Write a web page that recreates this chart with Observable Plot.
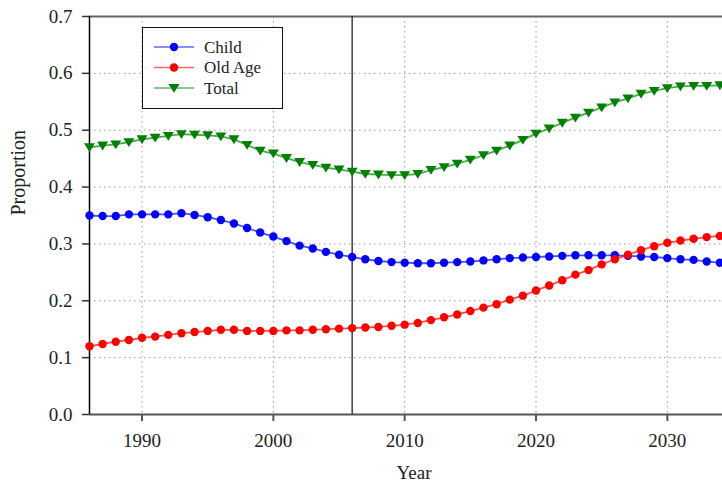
<!DOCTYPE html>
<html><head><meta charset="utf-8">
<script src="https://cdn.jsdelivr.net/npm/d3@7"></script>
<script src="https://cdn.jsdelivr.net/npm/@observablehq/plot@0.6"></script>
<style>
body{margin:0;background:#fff;}
#wrap{position:relative;width:722px;height:483px;overflow:hidden;background:#fff;}
#wrap svg.legend{position:absolute;left:142px;top:27px;}
</style></head><body><div id="wrap"></div>
<script>
const years = [1986,1987,1988,1989,1990,1991,1992,1993,1994,1995,1996,1997,1998,1999,2000,2001,2002,2003,2004,2005,2006,2007,2008,2009,2010,2011,2012,2013,2014,2015,2016,2017,2018,2019,2020,2021,2022,2023,2024,2025,2026,2027,2028,2029,2030,2031,2032,2033,2034];
const child = [0.350,0.349,0.349,0.352,0.352,0.352,0.352,0.354,0.351,0.347,0.342,0.336,0.328,0.320,0.313,0.305,0.297,0.292,0.286,0.281,0.277,0.273,0.270,0.268,0.267,0.266,0.266,0.267,0.268,0.269,0.271,0.273,0.275,0.276,0.277,0.278,0.279,0.280,0.280,0.280,0.280,0.279,0.278,0.277,0.275,0.273,0.272,0.269,0.267];
const oldAge = [0.120,0.124,0.128,0.131,0.135,0.137,0.140,0.143,0.145,0.147,0.149,0.149,0.147,0.147,0.147,0.148,0.148,0.149,0.150,0.151,0.152,0.153,0.154,0.156,0.158,0.161,0.166,0.171,0.176,0.182,0.188,0.194,0.202,0.209,0.218,0.227,0.236,0.246,0.254,0.264,0.273,0.281,0.289,0.296,0.302,0.306,0.309,0.312,0.314];
const total = [0.470,0.473,0.475,0.479,0.484,0.487,0.490,0.493,0.492,0.491,0.489,0.484,0.474,0.464,0.459,0.451,0.444,0.439,0.434,0.431,0.427,0.423,0.422,0.421,0.421,0.423,0.430,0.435,0.441,0.448,0.456,0.464,0.473,0.483,0.494,0.503,0.513,0.522,0.531,0.540,0.549,0.556,0.564,0.569,0.574,0.577,0.578,0.578,0.579];
const xTicks = [1990,2000,2010,2020,2030];
const yTicks = [0,0.1,0.2,0.3,0.4,0.5,0.6,0.7];
const seriesNames = ["Child","Old Age","Total"];
const seriesColors = ["#0000ff","#ff0000","#008000"];
const markerLine = "2006";

const triangleDown = {
  draw(context, size) {
    const s = Math.sqrt(size / Math.PI);
    context.moveTo(-1.25 * s, -0.9 * s);
    context.lineTo(1.25 * s, -0.9 * s);
    context.lineTo(0, 1.1 * s);
    context.closePath();
  }
};

const rows = (vals) => years.map((y, i) => ({year: y, value: vals[i]}));
const dChild = rows(child), dOld = rows(oldAge), dTotal = rows(total);

const font = "'Liberation Serif', 'Times New Roman', serif";
const grid = {stroke: "#9a9a9a", strokeOpacity: 1, strokeDasharray: "1.5,3.5", strokeWidth: 1};

const chart = Plot.plot({
  width: 722, height: 483,
  marginLeft: 89, marginRight: 0, marginTop: 16, marginBottom: 69,
  style: {fontFamily: font, fontSize: "19px", color: "#222", background: "#fff", overflow: "hidden"},
  x: {domain: [1986, 2034.2]},
  y: {domain: [0, 0.7]},
  marks: [
    Plot.gridX(xTicks, grid),
    Plot.gridY(yTicks.slice(1, -1), grid),
    Plot.axisY(yTicks, {tickFormat: d => d.toFixed(1), tickSize: 7, tickPadding: 10, label: null, stroke: "#333", strokeWidth: 1.5, fontSize: 19}),
    Plot.axisX(xTicks, {tickFormat: d => String(d), tickSize: 7, tickPadding: 12, label: null, stroke: "#555", strokeWidth: 2, fontSize: 19}),
    Plot.ruleY([0], {stroke: "#555", strokeWidth: 2}),
    Plot.ruleY([0.7], {stroke: "#666", strokeWidth: 2}),
    Plot.ruleX([1986], {stroke: "#000", strokeWidth: 1.5}),
    Plot.ruleX([+markerLine], {stroke: "#222", strokeWidth: 1.3}),
    Plot.line(dChild, {x: "year", y: "value", stroke: seriesColors[0], strokeWidth: 1.8, strokeOpacity: 0.7}),
    Plot.line(dOld, {x: "year", y: "value", stroke: seriesColors[1], strokeWidth: 1.8, strokeOpacity: 0.7}),
    Plot.line(dTotal, {x: "year", y: "value", stroke: seriesColors[2], strokeWidth: 1.8, strokeOpacity: 0.7}),
    Plot.dot(dChild, {x: "year", y: "value", fill: seriesColors[0], r: 4.2, symbol: "circle"}),
    Plot.dot(dOld, {x: "year", y: "value", fill: seriesColors[1], r: 4.2, symbol: "circle"}),
    Plot.dot(dTotal, {x: "year", y: "value", fill: seriesColors[2], r: 4.4, symbol: triangleDown}),
    Plot.text(["Year"], {frameAnchor: "bottom", lineAnchor: "middle", dy: 58, dx: 8, fontSize: 19, fill: "#222"}),
    Plot.text(["Proportion"], {frameAnchor: "left", lineAnchor: "middle", dx: -71, rotate: -90, fontSize: 20, fill: "#222"})
  ]
});
const wrap = document.getElementById("wrap");
wrap.appendChild(chart);

// legend inside the plot area
const lg = d3.select(wrap).append("svg").attr("class", "legend")
  .attr("width", 141).attr("height", 82);
lg.append("rect").attr("x", 0.5).attr("y", 0.5).attr("width", 140).attr("height", 81)
  .attr("fill", "#fff").attr("stroke", "#111").attr("stroke-width", 1);
const sym = d3.symbol().size(4.4 * 4.4 * Math.PI);
seriesNames.forEach((name, i) => {
  const y = 20 + i * 20.5;
  const g = lg.append("g").attr("transform", `translate(0,${y})`);
  g.append("line").attr("x1", 12).attr("x2", 52).attr("y1", 0).attr("y2", 0)
    .attr("stroke", seriesColors[i]).attr("stroke-width", 1.5).attr("stroke-opacity", 0.6);
  g.append("path").attr("transform", "translate(32,0)")
    .attr("d", i === 2 ? sym.type(triangleDown)() : d3.symbol().size(4.2 * 4.2 * Math.PI).type(d3.symbolCircle)())
    .attr("fill", seriesColors[i]);
  g.append("text").attr("x", 62).attr("y", 0).attr("dy", "0.35em")
    .attr("font-family", font).attr("font-size", 17).attr("fill", "#222").text(name);
});
</script>
</body></html>
